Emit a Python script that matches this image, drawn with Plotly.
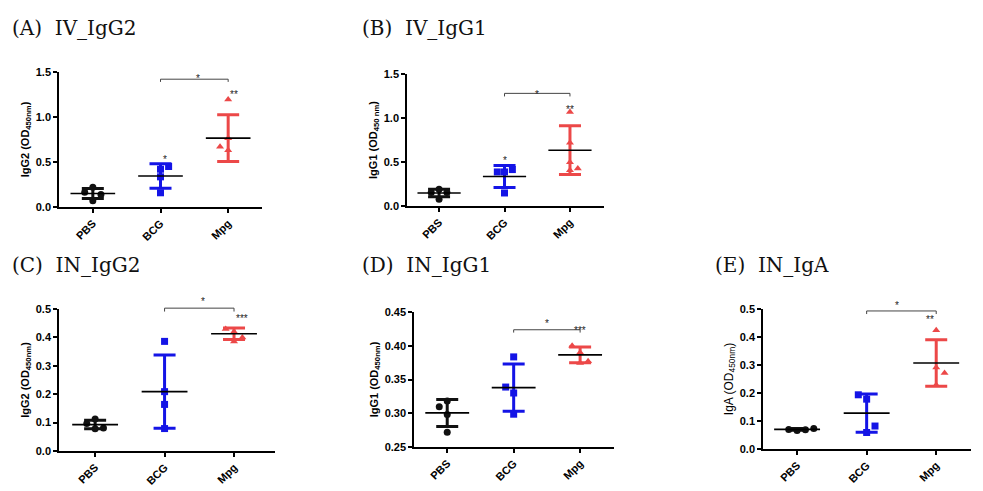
import plotly.graph_objects as go

W, H = 983, 491          # window size
OFF = 8                  # page body margin
FW, FH = W - OFF, H - OFF
categories = ["PBS", "BCG", "Mpg"]

# ---- Panel data ----
A_pbs = [0.22, 0.165, 0.14, 0.07]
A_bcg = [0.42, 0.45, 0.335, 0.158]
A_mpg = [1.195, 0.67, 0.765, 0.63]
A_mean = [0.15, 0.345, 0.765]
A_sd = [0.055, 0.136, 0.26]

B_pbs = [0.19, 0.152, 0.152, 0.076]
B_bcg = [0.387, 0.387, 0.414, 0.148]
B_mpg = [1.067, 0.718, 0.497, 0.406, 0.425]
B_mean = [0.148, 0.335, 0.634]
B_sd = [0.042, 0.126, 0.277]

C_pbs = [0.113, 0.097, 0.081, 0.078]
C_bcg = [0.386, 0.209, 0.164, 0.079]
C_mpg = [0.43, 0.42, 0.386, 0.40]
C_mean = [0.093, 0.209, 0.413]
C_sd = [0.015, 0.129, 0.02]

D_pbs = [0.318, 0.3096, 0.298, 0.272]
D_bcg = [0.3835, 0.3388, 0.330, 0.2986]
D_mpg = [0.40, 0.39, 0.3746, 0.377]
D_mean = [0.3005, 0.338, 0.3865]
D_sd = [0.02, 0.035, 0.0117]

E_pbs = [0.07, 0.0665, 0.069, 0.0736]
E_bcg = [0.1936, 0.178, 0.082, 0.059]
E_mpg = [0.424, 0.291, 0.271, 0.229]
E_mean = [0.07, 0.128, 0.307]
E_sd = [0.003, 0.068, 0.083]

# significance: star over BCG, its y, stars over Mpg, their y, bracket y, bracket tick bottom, bracket-star y
A_sig = ["*", 0.61, "**", 1.33, 1.42, 1.39, 1.51]
B_sig = ["*", 0.60, "**", 1.18, 1.28, 1.245, 1.35]
C_sig = ["", None, "***", 0.466, 0.503, 0.491, 0.527]
D_sig = ["", None, "***", 0.412, 0.4237, 0.4195, 0.4325]
E_sig = ["", None, "**", 0.461, 0.493, 0.482, 0.514]

titles = ["(A)\u00a0 IV_IgG2", "(B)\u00a0 IV_IgG1", "(C)\u00a0 IN_IgG2", "(D)\u00a0 IN_IgG1", "(E)\u00a0 IN_IgA"]
ytitles = ["IgG2 (OD<sub>450nm</sub>)", "IgG1 (OD<sub>450 nm</sub>)", "IgG2 (OD<sub>450nm</sub>)",
           "IgG1 (OD<sub>450nm</sub>)", "IgA (OD<sub>450nm</sub>)"]

# ---- Layout / style (pixel geometry in window coordinates) ----
jit = {
    "A": [[0, -0.12, 0.12, 0], [0, 0.12, 0, 0], [0, -0.12, 0, 0]],
    "B": [[0, -0.12, 0.12, 0], [-0.11, 0, 0.12, 0], [0, 0, 0, 0, 0.12]],
    "C": [[0, -0.12, 0.12, 0], [0, 0, 0, 0], [-0.12, 0, 0, 0.12]],
    "D": [[0, -0.12, 0, 0], [0, -0.12, 0, 0], [-0.12, 0, 0, 0.12]],
    "E": [[-0.12, 0, 0.12, 0.24], [-0.12, 0, 0.12, 0], [0, 0, 0.12, 0]],
}
boxes = {  # x0, x1, ytop, ybottom
    "A": (59, 262, 72, 207),
    "B": (407, 604, 74, 206),
    "C": (59, 275, 309, 451),
    "D": (414, 614, 312, 447),
    "E": (763, 971, 309, 449),
}
yranges = {"A": [0, 1.5], "B": [0, 1.5], "C": [0, 0.5], "D": [0.25, 0.45], "E": [0, 0.5]}
ydticks = {"A": 0.5, "B": 0.5, "C": 0.1, "D": 0.05, "E": 0.1}
yfmt = {"A": ".1f", "B": ".1f", "C": ".1f", "D": ".2f", "E": ".1f"}
xranges = {"A": [-0.5, 2.5], "B": [-0.49, 2.52], "C": [-0.52, 2.59], "D": [-0.5, 2.51], "E": [-0.49, 2.5]}
title_pos = {"A": (10, 28), "B": (360, 28), "C": (10, 265), "D": (360, 265), "E": (713, 265)}

colors = ["#111111", "#1414E6", "#EC4848"]
symbols = ["circle", "square", "triangle-up"]

panels = [
    ("A", [A_pbs, A_bcg, A_mpg], A_mean, A_sd, A_sig),
    ("B", [B_pbs, B_bcg, B_mpg], B_mean, B_sd, B_sig),
    ("C", [C_pbs, C_bcg, C_mpg], C_mean, C_sd, C_sig),
    ("D", [D_pbs, D_bcg, D_mpg], D_mean, D_sd, D_sig),
    ("E", [E_pbs, E_bcg, E_mpg], E_mean, E_sd, E_sig),
]


def px2paper_x(p):
    return (p - OFF) / FW


def px2paper_y(p):
    return 1 - (p - OFF) / FH


def paper_y(key, v):
    x0, x1, yt, yb = boxes[key]
    r0, r1 = yranges[key]
    return px2paper_y(yb + (v - r0) / (r1 - r0) * (yt - yb))


def paper_x(key, v):
    x0, x1, yt, yb = boxes[key]
    r0, r1 = xranges[key]
    return px2paper_x(x0 + (v - r0) / (r1 - r0) * (x1 - x0))


fig = go.Figure()
sans = "Liberation Sans, Arial"
annotations = []
shapes = []
layout_axes = {}
star_font = dict(family=sans, size=10, color="#222")

for k, (key, groups, means, sds, sig) in enumerate(panels):
    n = k + 1
    xa = "x" if n == 1 else f"x{n}"
    ya = "y" if n == 1 else f"y{n}"
    x0, x1, yt, yb = boxes[key]
    for g, vals in enumerate(groups):
        fig.add_trace(go.Scatter(
            x=[g + o for o in jit[key][g]], y=vals, mode="markers",
            marker=dict(symbol=symbols[g], size=7, color=colors[g], line=dict(width=0)),
            xaxis=xa, yaxis=ya, showlegend=False, cliponaxis=False))
    for g in range(3):
        fig.add_trace(go.Scatter(
            x=[g], y=[means[g]], mode="markers",
            marker=dict(size=1, color="rgba(0,0,0,0)"),
            error_y=dict(type="data", array=[sds[g]], color=colors[g], thickness=3, width=11),
            xaxis=xa, yaxis=ya, showlegend=False, cliponaxis=False))
    mx, my = [], []
    for g in range(3):
        mx += [g - 0.33, g + 0.33, None]
        my += [means[g], means[g], None]
    fig.add_trace(go.Scatter(x=mx, y=my, mode="lines", line=dict(color="black", width=1.6),
                             xaxis=xa, yaxis=ya, showlegend=False, cliponaxis=False))
    s_bcg, y_bcg, s_mpg, y_mpg, yb_, yt_, ys = sig
    if s_bcg:
        annotations.append(dict(x=paper_x(key, 1), y=paper_y(key, y_bcg), xref="paper", yref="paper",
                                text=s_bcg, showarrow=False, font=star_font))
    annotations.append(dict(x=paper_x(key, 2), y=paper_y(key, y_mpg), xref="paper", yref="paper",
                            text=s_mpg, showarrow=False, font=star_font))
    bx1, bx2 = paper_x(key, 1), paper_x(key, 2)
    by_top, by_bot = paper_y(key, yb_), paper_y(key, yt_)
    shapes.append(dict(type="path", xref="paper", yref="paper",
                       path=f"M {bx1} {by_bot} L {bx1} {by_top} L {bx2} {by_top} L {bx2} {by_bot}",
                       line=dict(color="#444", width=1)))
    annotations.append(dict(x=paper_x(key, 1.5), y=paper_y(key, ys), xref="paper", yref="paper",
                            text="*", showarrow=False, font=star_font))
    tx, ty = title_pos[key]
    annotations.append(dict(x=px2paper_x(tx), y=px2paper_y(ty), xref="paper", yref="paper",
                            text=titles[k], showarrow=False, xanchor="left", yanchor="middle",
                            font=dict(family="DejaVu Serif", size=20, color="#111")))
    ya_r = yranges[key]
    bold = key != "E"
    layout_axes["xaxis" if n == 1 else f"xaxis{n}"] = dict(
        domain=[px2paper_x(x0), px2paper_x(x1)], range=xranges[key], anchor=ya, automargin=False,
        tickmode="array", tickvals=[0, 1, 2], ticktext=categories, tickangle=-45,
        showline=True, linecolor="black", linewidth=1.5, ticks="outside", ticklen=4,
        tickwidth=1.5, tickcolor="black", showgrid=False, zeroline=False,
        tickfont=dict(family=sans, size=11, color="black", weight="bold"))
    layout_axes["yaxis" if n == 1 else f"yaxis{n}"] = dict(
        domain=[px2paper_y(yb), px2paper_y(yt)], range=ya_r, anchor=xa, automargin=False,
        tick0=ya_r[0], dtick=ydticks[key], tickformat=yfmt[key],
        showline=True, linecolor="black", linewidth=1.5, ticks="outside", ticklen=4,
        tickwidth=1.5, tickcolor="black", showgrid=False, zeroline=False,
        tickfont=dict(family=sans, size=11, color="black", weight="bold"),
        title=dict(text=ytitles[k], standoff=4,
                   font=dict(family=sans, size=12 if not bold else 11, color="black",
                             weight="bold" if bold else "normal")))

fig.update_layout(
    width=FW, height=FH, autosize=False,
    margin=dict(l=0, r=0, t=0, b=0, pad=0, autoexpand=False),
    paper_bgcolor="white", plot_bgcolor="white",
    annotations=annotations, shapes=shapes, **layout_axes)

fig.write_html("out.html")
